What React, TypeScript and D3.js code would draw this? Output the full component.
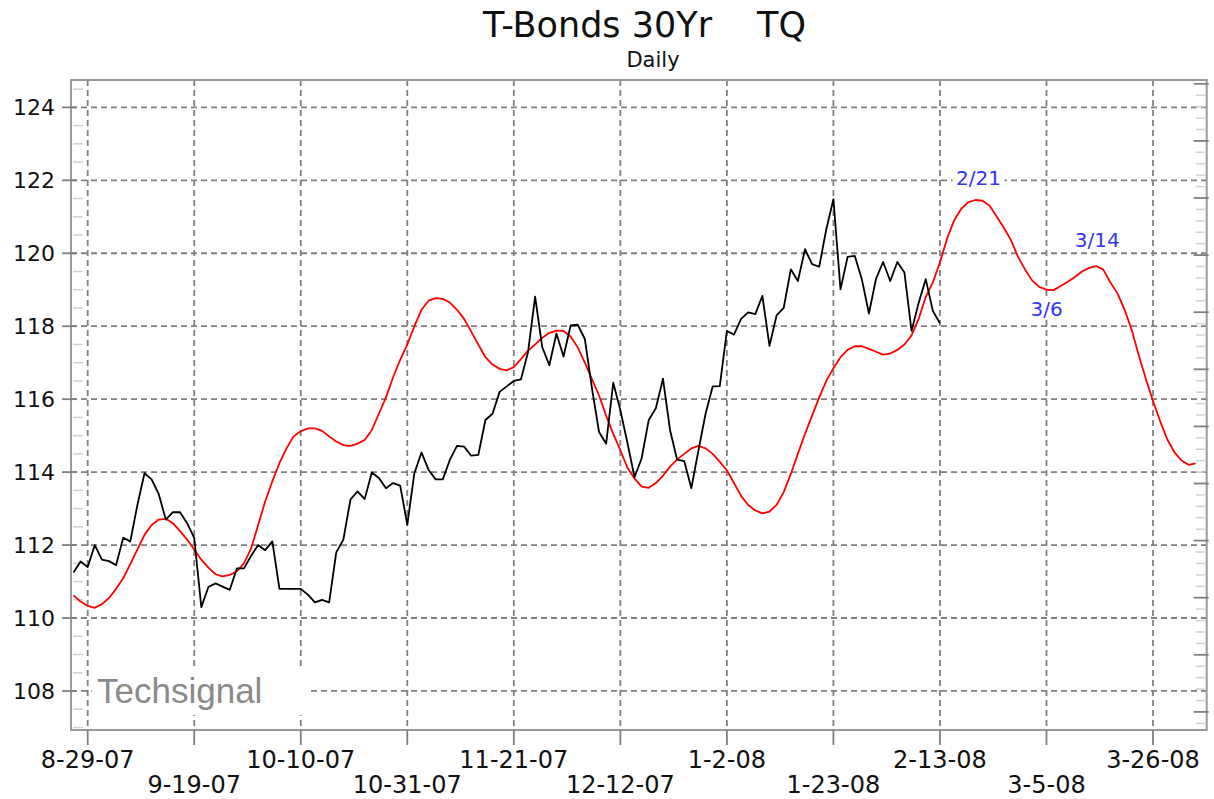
import * as d3 from "d3";

// weekday index, day 0 = Mon 8-27-07
const tickDays = [2, 17, 32, 47, 62, 77, 92, 107, 122, 137, 152];
const tickLabels = ["8-29-07", "9-19-07", "10-10-07", "10-31-07", "11-21-07", "12-12-07", "1-2-08", "1-23-08", "2-13-08", "3-5-08", "3-26-08"];
const yTicks = [108, 110, 112, 114, 116, 118, 120, 122, 124];

// daily closes, day 0..122
const closes = [
  111.25, 111.55, 111.4, 112.0, 111.6, 111.56, 111.45, 112.2, 112.1, 113.1,
  113.97, 113.8, 113.4, 112.7, 112.9, 112.9, 112.6, 112.2, 110.3, 110.85,
  110.95, 110.86, 110.77, 111.36, 111.36, 111.7, 112.0, 111.86, 112.1, 110.8,
  110.8, 110.8, 110.8, 110.64, 110.43, 110.5, 110.43, 111.8, 112.15, 113.25,
  113.47, 113.26, 113.99, 113.84, 113.56, 113.7, 113.63, 112.56, 113.97, 114.54,
  114.06, 113.8, 113.8, 114.34, 114.72, 114.7, 114.45, 114.47, 115.43, 115.6,
  116.2, 116.35, 116.5, 116.54, 117.29, 118.81, 117.43, 116.93, 117.8, 117.17,
  118.02, 118.04, 117.65, 116.3, 115.1, 114.78, 116.45, 115.7, 114.8, 113.86,
  114.38, 115.43, 115.75, 116.56, 115.15, 114.34, 114.3, 113.56, 114.6, 115.6,
  116.35, 116.36, 117.87, 117.77, 118.2, 118.38, 118.33, 118.83, 117.46, 118.3,
  118.5, 119.56, 119.24, 120.11, 119.7, 119.63, 120.66, 121.48, 119.01, 119.9,
  119.93, 119.29, 118.35, 119.3, 119.76, 119.24, 119.76, 119.47, 117.87, 118.64,
  119.29, 118.42, 118.08,
];

// cycle projection, day 0..158
const cycle = [
  110.62, 110.45, 110.33, 110.28, 110.38, 110.55, 110.8, 111.09, 111.48, 111.88,
  112.28, 112.55, 112.7, 112.72, 112.6, 112.38, 112.15, 111.88, 111.6, 111.38,
  111.2, 111.14, 111.18, 111.28, 111.5, 111.9, 112.55, 113.2, 113.75, 114.25,
  114.65, 114.98, 115.12, 115.2, 115.2, 115.13, 114.98, 114.84, 114.74, 114.72,
  114.78, 114.88, 115.15, 115.6, 116.05, 116.6, 117.08, 117.5, 118.0, 118.45,
  118.7, 118.77, 118.75, 118.65, 118.45, 118.2, 117.85, 117.5, 117.15, 116.95,
  116.83, 116.79, 116.88, 117.1, 117.33, 117.5, 117.68, 117.82, 117.88, 117.87,
  117.72, 117.42, 117.0, 116.55, 116.1, 115.55, 115.05, 114.6, 114.12, 113.82,
  113.6, 113.57, 113.7, 113.9, 114.15, 114.35, 114.5, 114.65, 114.72, 114.65,
  114.5, 114.28, 114.05, 113.7, 113.35, 113.1, 112.95, 112.87, 112.92, 113.1,
  113.45, 113.95, 114.5, 115.05, 115.55, 116.05, 116.5, 116.85, 117.15, 117.35,
  117.45, 117.45, 117.38, 117.3, 117.22, 117.25, 117.35, 117.5, 117.75, 118.2,
  118.8, 119.2, 119.75, 120.4, 120.9, 121.22, 121.4, 121.46, 121.44, 121.3,
  121.0, 120.7, 120.36, 119.9, 119.55, 119.25, 119.08, 119.0, 118.99, 119.1,
  119.22, 119.35, 119.5, 119.6, 119.65, 119.55, 119.2, 118.9, 118.45, 117.9,
  117.2, 116.55, 115.95, 115.4, 114.9, 114.55, 114.32, 114.2, 114.24,
];

const turnDays = [128, 138, 144];
const turnLabels = ["2/21", "3/6", "3/14"];

const W = 1214;
const H = 799;
const left = 71;
const right = 1206.7;
const top = 80;
const bottom = 730;

const font = "'DejaVu Sans', Verdana, sans-serif";

function App() {
  const x = d3.scaleLinear().domain([-0.35, 159.56]).range([left, right]);
  const y = d3.scaleLinear().domain([106.93, 124.75]).range([bottom, top]);
  // unlabelled scale on the right side
  const yR = d3.scaleLinear().domain([-0.317, 11.067]).range([bottom, top]);

  const line = d3.line<number>().x((_, i) => x(i)).y((v) => y(v));

  const minorLeft = d3.range(107, 124.75, 0.5).filter((v) => v % 2 !== 0);
  const rMajor = d3.range(0, 11.01, 1);
  const rMinor = d3.range(-0.2, 11.0, 0.2).filter((v) => Math.abs(v - Math.round(v)) > 0.01);

  const gridColor = "#808080";
  const axisColor = "#9a9a9a";

  // offsets for the turn labels (above peaks, below trough)
  const turnDx = [-4, -7, 1];
  const turnDy = [-16, 26, -19];

  return (
    <svg width={W} height={H} style={{ position: "absolute", left: 0, top: 0, background: "#fff" }}>
      <rect width={W} height={H} fill="#fff" />
      <text x={483} y={37} fontFamily={font} fontSize={35} fill="#111">T-Bonds 30Yr</text>
      <text x={757} y={37} fontFamily={font} fontSize={35} fill="#111">TQ</text>
      <text x={653} y={67} textAnchor="middle" fontFamily={font} fontSize={21} fill="#111">Daily</text>

      {/* grid */}
      {yTicks.map((v) => (
        <line key={`gy-${v}`} x1={left} x2={right} y1={y(v)} y2={y(v)}
          stroke={gridColor} strokeWidth={1.8} strokeDasharray="6 4" />
      ))}
      {tickDays.map((d) => (
        <line key={`gx-${d}`} x1={x(d)} x2={x(d)} y1={top} y2={bottom}
          stroke={gridColor} strokeWidth={1.8} strokeDasharray="6 4" />
      ))}

      {/* watermark box */}
      <rect x={x(2) + 4} y={y(108) - 22} width={216} height={46} fill="#fff" />
      <text x={97} y={703} fontFamily="'Liberation Sans', Arial, sans-serif" fontSize={35} fill="#8a8a8a">Techsignal</text>

      {/* frame */}
      <rect x={left} y={top} width={right - left} height={bottom - top} fill="none" stroke={axisColor} strokeWidth={2} />

      {/* left axis ticks */}
      {minorLeft.map((v) => (
        <line key={`ml-${v}`} x1={left + 2} x2={left + 12} y1={y(v)} y2={y(v)} stroke="#d0d0d0" strokeWidth={1.5} />
      ))}
      {yTicks.map((v) => (
        <g key={`yt-${v}`}>
          <line x1={left - 9} x2={left + 6} y1={y(v)} y2={y(v)} stroke="#808080" strokeWidth={1.8} />
          <text x={55} y={y(v)} dy="0.36em" textAnchor="end" fontFamily={font} fontSize={22} fill="#111">{v}</text>
        </g>
      ))}

      {/* right axis ticks */}
      {rMinor.map((v) => (
        <line key={`mr-${v}`} x1={right - 11} x2={right - 2} y1={yR(v)} y2={yR(v)} stroke="#d0d0d0" strokeWidth={1.5} />
      ))}
      {rMajor.map((v) => (
        <line key={`rt-${v}`} x1={right - 13} x2={right + 2} y1={yR(v)} y2={yR(v)} stroke="#808080" strokeWidth={1.8} />
      ))}

      {/* x axis ticks and labels */}
      {tickDays.map((d, i) => (
        <g key={`xt-${d}`}>
          <line x1={x(d)} x2={x(d)} y1={bottom} y2={bottom + 15} stroke="#808080" strokeWidth={1.8} />
          <text x={x(d)} y={i % 2 === 0 ? 768 : 793} textAnchor="middle" fontFamily={font} fontSize={24} fill="#111">
            {tickLabels[i]}
          </text>
        </g>
      ))}

      {/* series */}
      <path d={line(cycle) ?? ""} fill="none" stroke="#ff0000" strokeWidth={1.8} strokeLinejoin="round" />
      <path d={line(closes) ?? ""} fill="none" stroke="#000" strokeWidth={1.8} strokeLinejoin="round" />

      {turnDays.map((d, i) => (
        <g key={`turn-${d}`}>
          <rect x={x(d) + turnDx[i] - 26} y={y(cycle[d]) + turnDy[i] - 17} width={52} height={20} fill="#fff" />
          <text x={x(d) + turnDx[i]} y={y(cycle[d]) + turnDy[i]} textAnchor="middle"
            fontFamily={font} fontSize={20} fill="#3434f4">
            {turnLabels[i]}
          </text>
        </g>
      ))}
    </svg>
  );
}

export default App;
